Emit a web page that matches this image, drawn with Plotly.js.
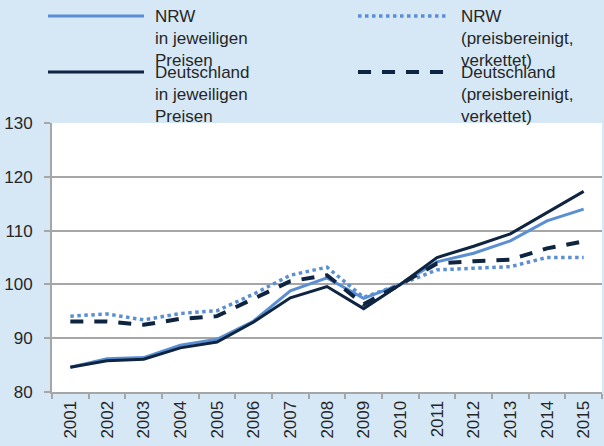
<!DOCTYPE html>
<html>
<head>
<meta charset="utf-8">
<script src="https://cdn.plot.ly/plotly-3.0.1.min.js"></script>
<style>html,body{margin:0;padding:0;background:#d6e8f6;}#chart{width:604px;height:446px;}</style>
</head>
<body>
<div id="chart"></div>
<script>
const years = ['2001','2002','2003','2004','2005','2006','2007','2008','2009','2010','2011','2012','2013','2014','2015'];
const nrwNominal = [84.6, 86.2, 86.4, 88.7, 89.8, 93.2, 98.8, 101.2, 97.4, 100, 104.2, 105.8, 108.1, 111.8, 114.0];
const nrwReal    = [94.1, 94.5, 93.4, 94.6, 95.1, 98.2, 101.7, 103.2, 97.6, 100, 102.7, 103.0, 103.3, 105.0, 105.0];
const deNominal  = [84.6, 85.8, 86.1, 88.2, 89.3, 93.0, 97.5, 99.6, 95.5, 100, 105.0, 107.1, 109.4, 113.3, 117.3];
const deReal     = [93.1, 93.1, 92.5, 93.6, 94.1, 97.4, 100.6, 101.7, 96.3, 100, 103.9, 104.3, 104.6, 106.7, 108.0];
const seriesNames = ['NRW<br>in jeweiligen<br>Preisen', 'NRW<br>(preisbereinigt,<br>verkettet)', 'Deutschland<br>in jeweiligen<br>Preisen', 'Deutschland<br>(preisbereinigt,<br>verkettet)'];

const lightBlue = '#5a8fd3';
const navy = '#0e2440';
const styles = [
  {color: lightBlue, width: 3, dash: 'solid'},
  {color: lightBlue, width: 3.5, dash: 'dot'},
  {color: navy, width: 3, dash: 'solid'},
  {color: navy, width: 4, dash: '13px,11px'}
];
const values = [nrwNominal, nrwReal, deNominal, deReal];

const traces = values.map((v, i) => ({
  type: 'scatter', mode: 'lines', x: years, y: v, name: seriesNames[i],
  line: styles[i], showlegend: false, hoverinfo: 'skip'
}));

// manual legend (pixel geometry converted to paper coords)
const L = 52, R = 2, T = 123, B = 54, W = 604, H = 446;
const pw = W - L - R, ph = H - T - B;
const px = x => (x - L) / pw;
const py = y => (H - B - y) / ph;
const legendPos = [
  {x0: 48, x1: 144, y: 16, tx: 153},
  {x0: 358, x1: 447, y: 16, tx: 459},
  {x0: 48, x1: 144, y: 72, tx: 153},
  {x0: 358, x1: 447, y: 72, tx: 459}
];
const shapes = legendPos.map((p, i) => ({
  type: 'line', xref: 'paper', yref: 'paper',
  x0: px(p.x0), x1: px(p.x1), y0: py(p.y), y1: py(p.y),
  line: {color: styles[i].color, width: styles[i].width, dash: styles[i].dash}
}));
const annotations = legendPos.map((p, i) => ({
  xref: 'paper', yref: 'paper', x: px(p.tx), y: py(p.y + 22),
  xanchor: 'left', yanchor: 'middle', align: 'left', showarrow: false,
  text: seriesNames[i], font: {family: 'Liberation Sans, Arial, sans-serif', size: 17, color: '#262626'}
}));

const layout = {
  width: W, height: H,
  margin: {l: L, r: R, t: T, b: B, pad: 0},
  paper_bgcolor: '#d6e8f6', plot_bgcolor: '#ffffff',
  font: {family: 'Liberation Sans, Arial, sans-serif', size: 17, color: '#262626'},
  showlegend: false,
  xaxis: {
    type: 'category', range: [-0.5, 14.5], tickangle: -90,
    showgrid: false, showline: true, linecolor: '#a6a6a6', linewidth: 2,
    ticks: 'outside', tickson: 'boundaries', ticklen: 5, tickcolor: '#a6a6a6', tickwidth: 2,
    tickfont: {size: 17, color: '#262626'}, fixedrange: true
  },
  yaxis: {
    range: [80, 130], dtick: 10, tick0: 80,
    showgrid: true, gridcolor: '#a6a6a6', gridwidth: 2, zeroline: false,
    showline: true, linecolor: '#a6a6a6', linewidth: 2,
    ticks: 'outside', ticklen: 6, tickcolor: '#a6a6a6', tickwidth: 2,
    ticklabelstandoff: 8,
    tickfont: {size: 17, color: '#262626'}, fixedrange: true
  },
  shapes: shapes,
  annotations: annotations
};

Plotly.newPlot('chart', traces, layout, {displayModeBar: false, staticPlot: true});
</script>
</body>
</html>
